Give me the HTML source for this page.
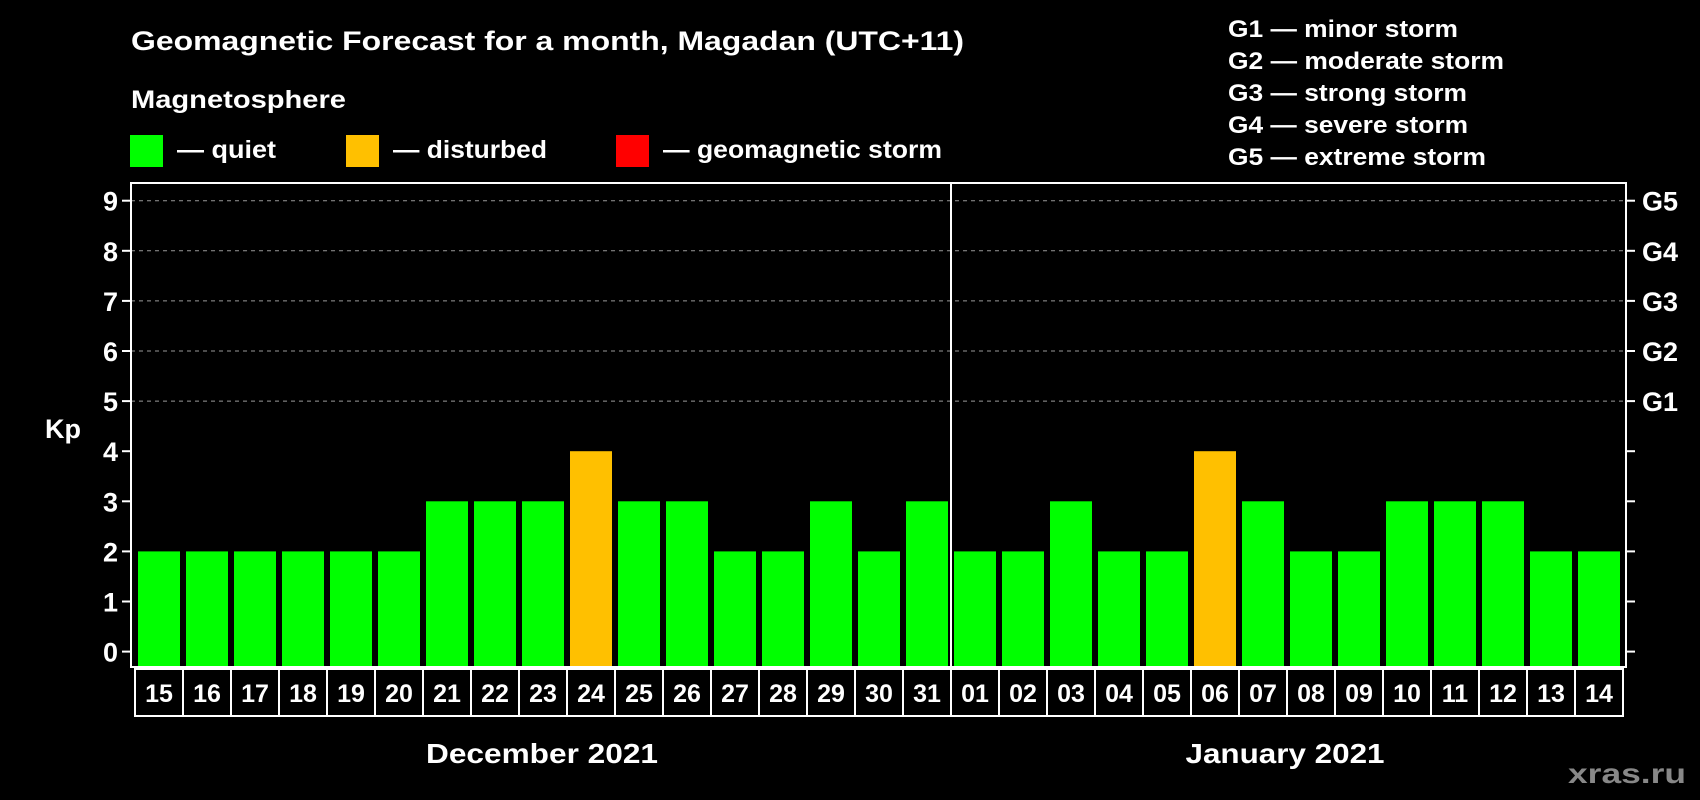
<!DOCTYPE html>
<html><head><meta charset="utf-8"><style>
html,body{margin:0;padding:0;background:#000;}
svg{display:block;font-family:"Liberation Sans",Arial,sans-serif;font-weight:bold;}
</style></head><body>
<svg id="chart" width="1700" height="800" viewBox="0 0 1700 800">
<rect x="0" y="0" width="1700" height="800" fill="#000"/>
<text x="131" y="50" fill="#fff" font-size="27" textLength="833" lengthAdjust="spacingAndGlyphs">Geomagnetic Forecast for a month, Magadan (UTC+11)</text>
<text x="131" y="108" fill="#fff" font-size="25" textLength="215" lengthAdjust="spacingAndGlyphs">Magnetosphere</text>
<g>
<rect x="130" y="135" width="33" height="32" fill="#00ff00"/>
<text x="177" y="158" fill="#fff" font-size="25" textLength="99" lengthAdjust="spacingAndGlyphs">— quiet</text></g>
<g>
<rect x="346" y="135" width="33" height="32" fill="#ffc000"/>
<text x="393" y="158" fill="#fff" font-size="25" textLength="154" lengthAdjust="spacingAndGlyphs">— disturbed</text></g>
<g>
<rect x="616" y="135" width="33" height="32" fill="#ff0000"/>
<text x="663" y="158" fill="#fff" font-size="25" textLength="279" lengthAdjust="spacingAndGlyphs">— geomagnetic storm</text></g>
<g fill="#fff" font-size="24">
<text x="1228" y="37" textLength="230" lengthAdjust="spacingAndGlyphs">G1 — minor storm</text>
<text x="1228" y="69" textLength="276" lengthAdjust="spacingAndGlyphs">G2 — moderate storm</text>
<text x="1228" y="101" textLength="239" lengthAdjust="spacingAndGlyphs">G3 — strong storm</text>
<text x="1228" y="133" textLength="240" lengthAdjust="spacingAndGlyphs">G4 — severe storm</text>
<text x="1228" y="165" textLength="258" lengthAdjust="spacingAndGlyphs">G5 — extreme storm</text>
</g>
<text x="63" y="438" fill="#fff" font-size="27" text-anchor="middle">Kp</text>
<g id="plot"></g>
<text x="542" y="763" fill="#fff" font-size="28" text-anchor="middle" textLength="232" lengthAdjust="spacingAndGlyphs">December 2021</text>
<text x="1285" y="763" fill="#fff" font-size="28" text-anchor="middle" textLength="199" lengthAdjust="spacingAndGlyphs">January 2021</text>
<text x="1627" y="783" fill="#888" font-size="28" text-anchor="middle" textLength="118" lengthAdjust="spacingAndGlyphs">xras.ru</text>
</svg>
<script>
const days = ["15","16","17","18","19","20","21","22","23","24","25","26","27","28","29","30","31","01","02","03","04","05","06","07","08","09","10","11","12","13","14"];
const kpValues = [2,2,2,2,2,2,3,3,3,4,3,3,2,2,3,2,3,2,2,3,2,2,4,3,2,2,3,3,3,2,2];
const yTicks = [0,1,2,3,4,5,6,7,8,9];
const gLabels = ["G1","G2","G3","G4","G5"];
const gLevels = [5,6,7,8,9];

const NS="http://www.w3.org/2000/svg";
const plot=document.getElementById('plot');
const L=131,R=1626,T=183,B=667,SX=135,SW=48;
const y0=651.6,unit=50.1;
function yScale(v){return y0-v*unit;}
function xScale(i){return SX+i*SW;}
function mk(tag,attrs){const e=document.createElementNS(NS,tag);for(const k in attrs)e.setAttribute(k,attrs[k]);plot.appendChild(e);return e;}

yTicks.forEach(function(v){
  const y=yScale(v);
  if(v>=5){
    const g=mk('line',{x1:L,x2:R,y1:y,y2:y,stroke:'#999','stroke-width':1,'stroke-dasharray':'4,4'});
    
    
  }
  const t1=mk('line',{x1:L-9,x2:L,y1:y,y2:y,stroke:'#fff','stroke-width':2});
  
  
  const t2=mk('line',{x1:R,x2:R+9,y1:y,y2:y,stroke:'#fff','stroke-width':2});
  
  
  const lab=mk('text',{x:L-13,y:y+10,fill:'#fff','font-size':27,'text-anchor':'end'});
  lab.textContent=v;
  
  
});
gLabels.forEach(function(g,i){
  const t=mk('text',{x:R+16,y:yScale(gLevels[i])+10,fill:'#fff','font-size':27});
  t.textContent=g;
  
  
});
kpValues.forEach(function(v,i){
  const col=v>=5?'#ff0000':(v>=4?'#ffc000':'#00ff00');
  const top=yScale(v);
  const b=mk('rect',{x:xScale(i)+3,y:top,width:42,height:B-top,fill:col});
  
  
});
const frame=mk('rect',{x:L,y:T,width:R-L,height:B-T,fill:'none',stroke:'#fff','stroke-width':2});


const div=mk('line',{x1:xScale(17),x2:xScale(17),y1:T,y2:B,stroke:'#fff','stroke-width':2});


days.forEach(function(d,i){
  const c=mk('rect',{x:xScale(i),y:669,width:SW,height:47,fill:'#000',stroke:'#fff','stroke-width':2});
  
  
  const t=mk('text',{x:xScale(i)+SW/2,y:702,fill:'#fff','font-size':25,'text-anchor':'middle'});
  t.textContent=d;
  
  
});
</script>
</body></html>
